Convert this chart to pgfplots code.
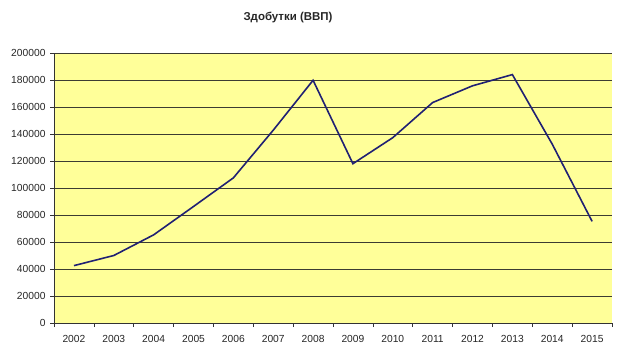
\documentclass[border=0pt]{standalone}
\usepackage{fontspec}
\setmainfont{Liberation Sans}
\usepackage{pgfplots}
\pgfplotsset{compat=1.18}
\definecolor{plotbg}{RGB}{255,255,153}
\definecolor{linecol}{RGB}{32,32,115}
\definecolor{gridcol}{RGB}{60,60,50}
\begin{document}
\begin{tikzpicture}[x=1bp,y=1bp]
\useasboundingbox (0,0) rectangle (620,351);
\node[font=\fontsize{11.5}{13}\selectfont\bfseries, text=black!85] at (288,334) {Здобутки (ВВП)};
\begin{axis}[
  at={(54bp,28bp)}, anchor=south west,
  width=558bp, height=270bp, scale only axis,
  xmin=-0.5, xmax=13.5, ymin=0, ymax=200000,
  axis x line*=bottom, axis y line*=left,
  axis line style={-, black!80, line width=0.8pt},
  axis background/.style={fill=plotbg},
  xtick={-0.5,0.5,1.5,2.5,3.5,4.5,5.5,6.5,7.5,8.5,9.5,10.5,11.5,12.5,13.5},
  xticklabels={2002,2003,2004,2005,2006,2007,2008,2009,2010,2011,2012,2013,2014,2015},
  x tick label as interval=true,
  ytick={0,20000,...,200000},
  scaled y ticks=false,
  yticklabel style={/pgf/number format/fixed, /pgf/number format/1000 sep={}},
  /pgf/number format/assume math mode=true,
  tick align=outside,
  major tick length=4bp,
  tick style={black!80, line width=0.6pt},
  ymajorgrids,
  grid style={gridcol, line width=0.7pt},
  ticklabel style={font=\fontsize{10.3}{12}\selectfont, text=black!85},
  xticklabel style={yshift=-4.5bp},
  yticklabel style={xshift=-1bp},
  clip=false,
]
\addplot[linecol, line width=1.6pt, mark=none] coordinates {
  (0,42500) (1,50000) (2,65300) (3,86300) (4,107500) (5,142800) (6,179800)
  (7,118000) (8,137300) (9,163300) (10,175700) (11,184000) (12,132500) (13,75300)
};
\end{axis}
\end{tikzpicture}
\end{document}
